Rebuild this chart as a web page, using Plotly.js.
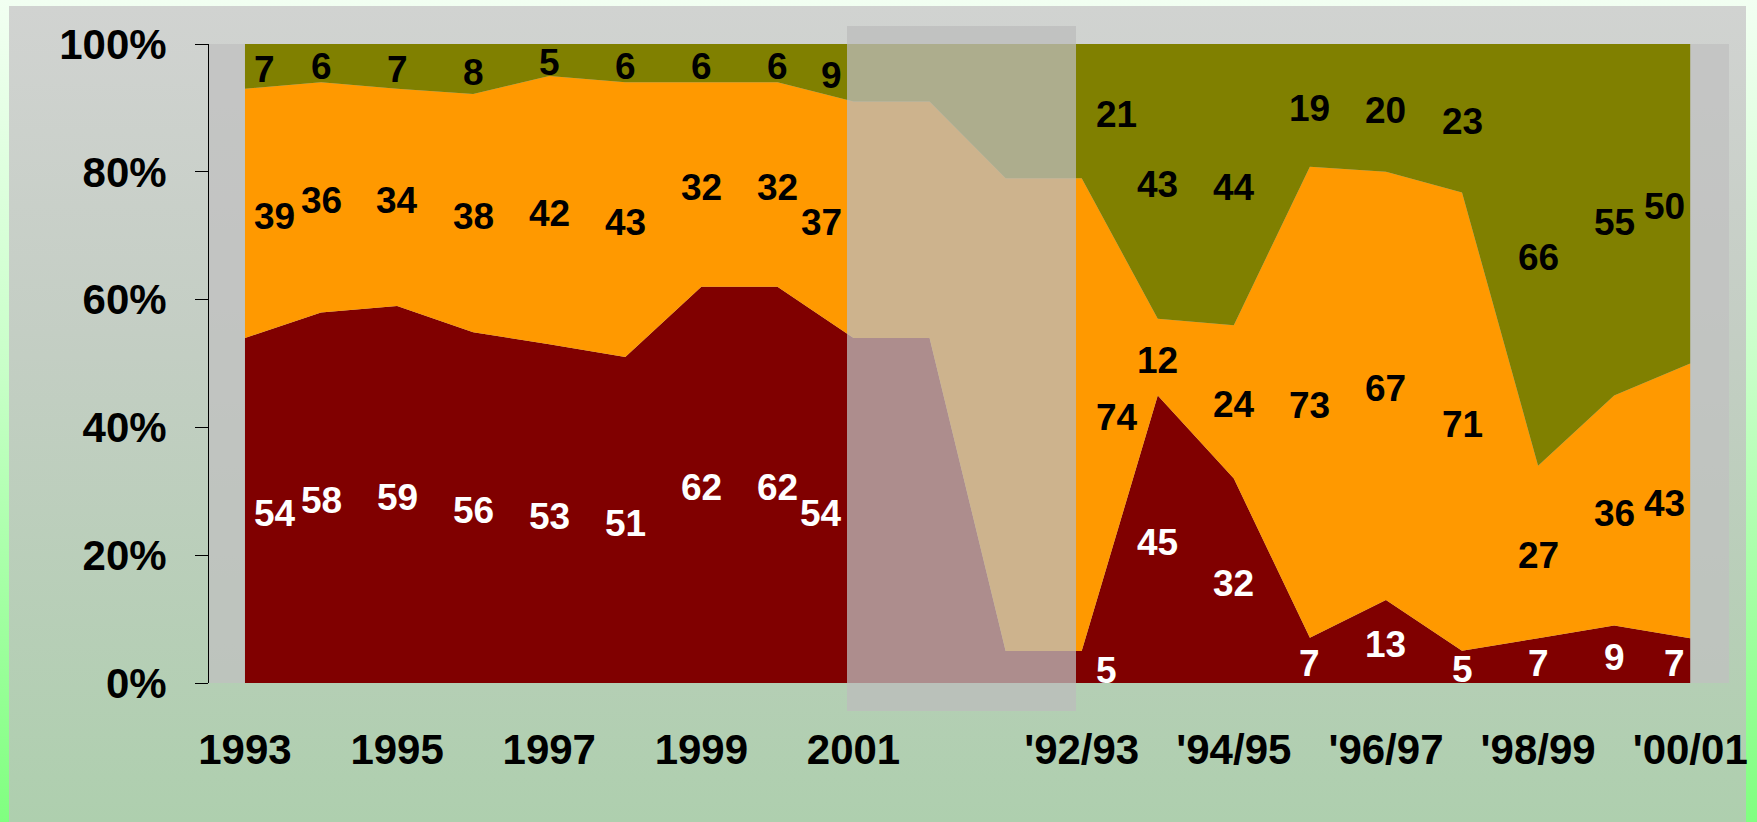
<!DOCTYPE html>
<html>
<head>
<meta charset="utf-8">
<script src="https://cdn.plot.ly/plotly-3.0.1.min.js"></script>
<style>
  html, body { margin: 0; padding: 0; }
  body { width: 1757px; height: 822px; position: relative; overflow: hidden;
         background: linear-gradient(to bottom, #f2fff2 0%, #c8ffc8 45%, #80ff80 100%); }
  #panel { position: absolute; left: 9px; top: 6px; width: 1737px; height: 816px;
           background: linear-gradient(to bottom, #d1d3d1 0%, #c4cec4 40%, #aecfae 100%); }
  #chart { position: absolute; left: 0; top: 0; width: 1757px; height: 822px; }
</style>
</head>
<body>
<div id="panel"></div>
<div id="chart"></div>
<script>
// ---- data ----
const years = ['1993','1994','1995','1996','1997','1998','1999','2000','2001'];
const seasons = ["'92/93","'93/94","'94/95","'95/96","'96/97","'97/98","'98/99","'99/00","'00/01"];
const yearTickLabels = ['1993','1995','1997','1999','2001'];
const seasonTickLabels = ["'92/93","'94/95","'96/97","'98/99","'00/01"];
const percentTicks = [0, 20, 40, 60, 80, 100];

const yearsRed    = [54, 58, 59, 56, 53, 51, 62, 62, 54];
const yearsOrange = [39, 36, 34, 38, 42, 43, 32, 32, 37];
const yearsOlive  = [ 7,  6,  7,  8,  5,  6,  6,  6,  9];

const seasonsRed    = [ 5, 45, 32,  7, 13,  5,  7,  9,  7];
const seasonsOrange = [74, 12, 24, 73, 67, 71, 27, 36, 43];
const seasonsOlive  = [21, 43, 44, 19, 20, 23, 66, 55, 50];

// ---- build the x positions: years, two bridge points, seasons ----
const nY = years.length, nS = seasons.length;
const xYears = years.map((_, i) => i);
const xBridge = [nY, nY + 1];
const xSeasons = seasons.map((_, j) => nY + 2 + j);
const xAll = xYears.concat(xBridge, xSeasons);

function joined(a, b) { return a.concat([a[a.length - 1], b[0]], b); }
const red = joined(yearsRed, seasonsRed);
const orange = joined(yearsOrange, seasonsOrange);
const olive = joined(yearsOlive, seasonsOlive);

const colors = { red: '#800000', orange: '#FF9900', olive: '#808000' };

const traces = [
  { x: xAll, y: red, name: 'A', fillcolor: colors.red },
  { x: xAll, y: orange, name: 'B', fillcolor: colors.orange },
  { x: xAll, y: olive, name: 'C', fillcolor: colors.olive }
].map(t => Object.assign(t, {
  type: 'scatter', mode: 'none', stackgroup: 'one', groupnorm: 'percent',
  hoverinfo: 'skip', line: { width: 0 }
}));

// ---- labels at the middle of each band ----
const labelFont = { family: 'Liberation Sans, Arial, sans-serif', size: 37, weight: 'bold' };
const annotations = [];
function addLabels(xs, r, o, g, edgeRules) {
  xs.forEach((x, k) => {
    const tot = r[k] + o[k] + g[k];
    const mids = [r[k] / 2 / tot * 100, (r[k] + o[k] / 2) / tot * 100, (r[k] + o[k] + g[k] / 2) / tot * 100];
    const vals = [r[k], o[k], g[k]];
    const rule = edgeRules[k] || { xanchor: 'center', xshift: 0 };
    vals.forEach((v, s) => {
      annotations.push({
        x: x, y: mids[s], xref: 'x', yref: 'y', text: String(v), showarrow: false,
        xanchor: rule.xanchor, xshift: rule.xshift, yanchor: 'middle', yshift: -3,
        font: Object.assign({}, labelFont, { color: s === 0 ? '#FFFFFF' : '#000000' })
      });
    });
  });
}
addLabels(xYears, yearsRed, yearsOrange, yearsOlive,
  { 0: { xanchor: 'left', xshift: 7 }, [nY - 1]: { xanchor: 'right', xshift: -10 } });
addLabels(xSeasons, seasonsRed, seasonsOrange, seasonsOlive,
  { 0: { xanchor: 'left', xshift: 12 }, [nS - 1]: { xanchor: 'right', xshift: -3 } });

// ---- ticks ----
const tickvals = [], ticktext = [];
years.forEach((y, i) => { if (yearTickLabels.includes(y)) { tickvals.push(xYears[i]); ticktext.push(y); } });
seasons.forEach((s, j) => { if (seasonTickLabels.includes(s)) { tickvals.push(xSeasons[j]); ticktext.push(s); } });

const tickFont = { family: 'Liberation Sans, Arial, sans-serif', size: 42, color: '#000000', weight: 'bold' };

const layout = {
  width: 1757, height: 822,
  margin: { l: 209, r: 28, t: 44, b: 139, pad: 0 },
  paper_bgcolor: 'rgba(0,0,0,0)',
  plot_bgcolor: 'rgba(192,192,192,0.75)',
  showlegend: false,
  font: { family: 'Liberation Sans, Arial, sans-serif', color: '#000' },
  xaxis: {
    range: [-0.473, xAll[xAll.length - 1] + 0.51],
    tickmode: 'array', tickvals: tickvals, ticktext: ticktext,
    showgrid: false, zeroline: false, showline: false, ticks: '',
    tickfont: tickFont, ticklabelstandoff: 38, fixedrange: true
  },
  yaxis: {
    range: [0, 100], tickmode: 'array', tickvals: percentTicks,
    ticktext: percentTicks.map(v => v + '%'),
    showgrid: false, zeroline: false, showline: true, linecolor: '#000', linewidth: 1,
    ticks: 'outside', ticklen: 13, tickcolor: '#000', tickwidth: 1,
    tickfont: tickFont, ticklabelstandoff: 20, fixedrange: true
  },
  shapes: [{
    type: 'rect', xref: 'paper', yref: 'paper', layer: 'above',
    x0: (847 - 209) / 1520, x1: (1076 - 209) / 1520,
    y0: -28 / 639, y1: 1 + 18 / 639,
    fillcolor: 'rgba(188,188,188,0.75)', line: { width: 0 }
  }],
  annotations: annotations
};

Plotly.newPlot('chart', traces, layout, { staticPlot: true, displayModeBar: false });
</script>
</body>
</html>
